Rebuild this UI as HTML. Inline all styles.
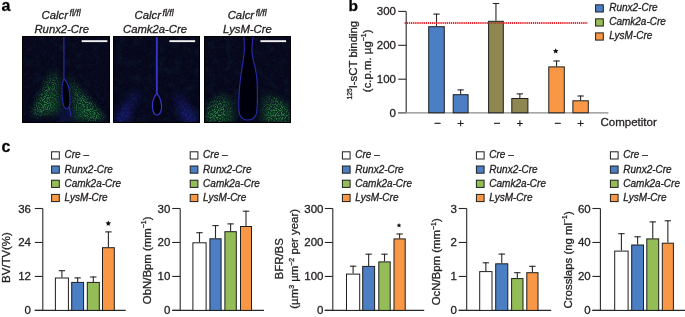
<!DOCTYPE html><html><head><meta charset="utf-8"><style>html,body{margin:0;padding:0;background:#fff;width:685px;height:317px;overflow:hidden}svg{display:block;will-change:transform;filter:blur(0.3px)}text{font-family:"Liberation Sans",sans-serif;stroke:#231f20;stroke-width:0.3px}</style></head><body>
<svg width="685" height="317" viewBox="0 0 685 317">
<defs>
<filter id="noise" x="0" y="0" width="100%" height="100%" color-interpolation-filters="sRGB">
<feTurbulence type="fractalNoise" baseFrequency="0.45" numOctaves="2" seed="3" result="t"/>
<feColorMatrix in="t" type="matrix" values="0 0 0 0 0.07  0 0 0 0 0.07  0 0 0 0 0.22  0 0 0 1.4 -0.6" result="n"/>
<feGaussianBlur in="n" stdDeviation="0.5" result="nb"/>
<feComposite in="nb" in2="SourceGraphic" operator="in"/>
</filter>
<filter id="gspeck" x="0" y="0" width="100%" height="100%" color-interpolation-filters="sRGB">
<feTurbulence type="fractalNoise" baseFrequency="0.85" numOctaves="2" seed="11" result="t"/>
<feColorMatrix in="t" type="matrix" values="0 0 0 0 0.20  0 0 0 0 0.58  0 0 0 0 0.30  0 0 0 3.0 -1.35" result="n"/>
<feGaussianBlur in="n" stdDeviation="0.35" result="nb"/>
<feComposite in="nb" in2="SourceGraphic" operator="in"/>
</filter>
<filter id="bspeck" x="0" y="0" width="100%" height="100%" color-interpolation-filters="sRGB">
<feTurbulence type="fractalNoise" baseFrequency="0.5" numOctaves="2" seed="5" result="t"/>
<feColorMatrix in="t" type="matrix" values="0 0 0 0 0.14  0 0 0 0 0.16  0 0 0 0 0.62  0 0 0 2.4 -0.95" result="n"/>
<feGaussianBlur in="n" stdDeviation="0.6" result="nb"/>
<feComposite in="nb" in2="SourceGraphic" operator="in"/>
</filter>
<filter id="bl3" x="-30%" y="-30%" width="160%" height="160%"><feGaussianBlur stdDeviation="3"/></filter>
<filter id="bl5" x="-30%" y="-30%" width="160%" height="160%"><feGaussianBlur stdDeviation="5"/></filter>
<filter id="bl06" x="-10%" y="-10%" width="120%" height="120%"><feGaussianBlur stdDeviation="0.45"/></filter>
<clipPath id="c1"><rect x="22" y="36" width="88" height="87"/></clipPath>
<clipPath id="c2"><rect x="113" y="36" width="87" height="87"/></clipPath>
<clipPath id="c3"><rect x="204" y="36" width="87" height="87"/></clipPath>
<linearGradient id="mg" x1="0" y1="0" x2="0" y2="1"><stop offset="0" stop-color="#555"/><stop offset="1" stop-color="#fff"/></linearGradient>
<mask id="m1" maskUnits="userSpaceOnUse" x="22" y="36" width="88" height="87"><g filter="url(#bl3)" fill="url(#mg)">
<path d="M54,66 L60,78 L60,100 L60,113 L32,115 L42,92 Z"/>
<path d="M68,71 L80,90 L96,108 L105,120 L73,120 L71,100 L70,86 Z"/>
</g></mask>
<mask id="m2" maskUnits="userSpaceOnUse" x="113" y="36" width="87" height="87"><g filter="url(#bl3)" fill="url(#mg)">
<path d="M135,89 L142,95 L133,108 L128,123 L113,123 L118,111 Z"/>
<path d="M174,91 L181,94 L193,110 L199,123 L183,123 L177,107 Z"/>
</g></mask>
<mask id="m1b" maskUnits="userSpaceOnUse" x="22" y="36" width="88" height="87"><g filter="url(#bl3)" fill="#fff">
<path d="M51,74 L56,82 L48,112 L33,114 Z"/>
<path d="M71,82 L84,95 L104,119 L88,120 Z"/>
</g></mask>
<mask id="m3b" maskUnits="userSpaceOnUse" x="204" y="36" width="87" height="87"><g filter="url(#bl3)" fill="#fff">
<path d="M207,121 L210,106 L220,99 L226,104 L222,121 Z"/>
<path d="M268,121 L270,100 L278,99 L289,112 L289,121 Z"/>
</g></mask>
<filter id="bgtex" x="0" y="0" width="100%" height="100%" color-interpolation-filters="sRGB">
<feTurbulence type="fractalNoise" baseFrequency="0.12" numOctaves="3" seed="21" result="t"/>
<feColorMatrix in="t" type="matrix" values="0 0 0 0 0.06  0 0 0 0 0.16  0 0 0 0 0.22  0 0 0 2.2 -1.05" result="n"/>
<feComposite in="n" in2="SourceGraphic" operator="in"/>
</filter>
<mask id="m3" maskUnits="userSpaceOnUse" x="204" y="36" width="87" height="87"><g filter="url(#bl3)" fill="url(#mg)">
<path d="M206,122 L207,106 L215,97 L224,92 L233,100 L234,122 Z"/>
<path d="M262,122 L262,100 L268,91 L279,97 L290,108 L290,122 Z"/>
</g></mask>
</defs>
<text x="1.4" y="11.2" font-size="16" text-anchor="start" font-weight="bold" fill="#000" >a</text>
<text x="41.6" y="19.2" font-size="11.3" font-style="italic" fill="#231f20">Calcr<tspan font-size="8.6" dx="1.6" dy="-3.6">fl/fl</tspan></text>
<text x="61.75" y="32.6" font-size="11.3" text-anchor="middle" font-weight="normal" font-style="italic" fill="#231f20" >Runx2-Cre</text>
<text x="134.6" y="19.2" font-size="11.3" font-style="italic" fill="#231f20">Calcr<tspan font-size="8.6" dx="1.6" dy="-3.6">fl/fl</tspan></text>
<text x="155" y="32.6" font-size="11.3" text-anchor="middle" font-weight="normal" font-style="italic" fill="#231f20" >Camk2a-Cre</text>
<text x="227.7" y="19.2" font-size="11.3" font-style="italic" fill="#231f20">Calcr<tspan font-size="8.6" dx="1.6" dy="-3.6">fl/fl</tspan></text>
<text x="247.45" y="32.6" font-size="11.3" text-anchor="middle" font-weight="normal" font-style="italic" fill="#231f20" >LysM-Cre</text>
<g clip-path="url(#c1)">
<rect x="22" y="36" width="88" height="87" fill="#060719"/>
<rect x="22" y="36" width="88" height="87" fill="#fff" filter="url(#noise)"/>
<rect x="22" y="36" width="88" height="87" fill="#fff" filter="url(#bgtex)" opacity="0.4"/>
<g mask="url(#m1)"><rect x="22" y="36" width="88" height="87" fill="#0d3022"/><rect x="22" y="36" width="88" height="87" fill="#fff" filter="url(#gspeck)" opacity="0.75"/></g>
<g mask="url(#m1b)"><rect x="22" y="36" width="88" height="87" fill="#fff" filter="url(#gspeck)"/></g>
<path d="M60,108 L72,108 L74,123 L58,123 Z" fill="#101650" opacity="0.6" filter="url(#bl3)"/>
<g filter="url(#bl06)" fill="none" stroke="#2a2aa8" stroke-width="1.1"><path d="M63.9,36 L63.9,79"/><path d="M63.9,79 C62.2,82 61.8,86 62,92 C62.2,98 62.6,104 64.3,107.5 C65.8,109.6 68.6,109.2 69.5,106 C70.3,102 70.1,95 68.8,88 C67.9,84 66,80.5 63.9,79 Z" fill="#03030c"/><path d="M69.2,107 L71,116"/></g>
<rect x="81.7" y="40.2" width="25.7" height="1.9" fill="#f2f2f2"/>
</g>
<rect x="22.5" y="36.5" width="87" height="86" fill="none" stroke="#000" stroke-width="1"/>
<g clip-path="url(#c2)">
<rect x="113" y="36" width="87" height="87" fill="#060719"/>
<rect x="113" y="36" width="87" height="87" fill="#fff" filter="url(#noise)"/>
<rect x="113" y="36" width="87" height="87" fill="#fff" filter="url(#bgtex)" opacity="0.4"/>
<g mask="url(#m2)"><rect x="113" y="36" width="87" height="87" fill="#101650"/><rect x="113" y="36" width="87" height="87" fill="#fff" filter="url(#bspeck)"/></g>
<g filter="url(#bl06)" fill="none" stroke="#3434cc" stroke-width="1.2"><path d="M156.8,36 L156.8,93.5" stroke-width="1.9"/><path d="M156.8,93.5 C153.5,97 152.4,102 152.4,107 C152.4,112 154.5,115 156.9,115 C159.3,115 161.6,112 161.6,107 C161.6,102 160,97 156.8,93.5" fill="#03030c"/></g>
<rect x="169.4" y="40.2" width="25.7" height="1.9" fill="#f2f2f2"/>
</g>
<rect x="113.5" y="36.5" width="86" height="86" fill="none" stroke="#000" stroke-width="1"/>
<g clip-path="url(#c3)">
<rect x="204" y="36" width="87" height="87" fill="#060719"/>
<rect x="204" y="36" width="87" height="87" fill="#fff" filter="url(#noise)"/>
<rect x="204" y="36" width="87" height="87" fill="#fff" filter="url(#bgtex)" opacity="0.4"/>
<g mask="url(#m3)"><rect x="204" y="36" width="87" height="87" fill="#0d3022"/><rect x="204" y="36" width="87" height="87" fill="#fff" filter="url(#gspeck)" opacity="0.75"/></g>
<g mask="url(#m3b)"><rect x="204" y="36" width="87" height="87" fill="#fff" filter="url(#gspeck)"/></g>
<g filter="url(#bl06)"><path d="M243.8,35 C244.2,42 244.6,46 244.2,52 C243.6,60 241.5,70 240.3,80 C239,92 238.5,104 239,111 C239.6,117.5 243,120 247.8,120 C252.5,120 256,117.5 256.8,111 C257.5,104 257.6,92 257,80 C256.5,70 252.5,60 252,52 C251.6,46 252.6,42 253.2,35" fill="#020208" stroke="#2a2aa8" stroke-width="1.1"/></g>
<rect x="260.4" y="40.2" width="25.7" height="1.9" fill="#f2f2f2"/>
</g>
<rect x="204.5" y="36.5" width="86" height="86" fill="none" stroke="#000" stroke-width="1"/>
<text x="348.6" y="10.9" font-size="15.5" text-anchor="start" font-weight="bold" fill="#000" >b</text>
<line x1="406.2" y1="11.4" x2="406.2" y2="112.8" stroke="#282828" stroke-width="1.1"/>
<line x1="398.2" y1="11.4" x2="406.2" y2="11.4" stroke="#282828" stroke-width="1.1"/>
<text x="396" y="15.4" font-size="11.5" text-anchor="end" font-weight="normal" fill="#231f20" >300</text>
<line x1="398.2" y1="45.3" x2="406.2" y2="45.3" stroke="#282828" stroke-width="1.1"/>
<text x="396" y="49.3" font-size="11.5" text-anchor="end" font-weight="normal" fill="#231f20" >200</text>
<line x1="398.2" y1="79.2" x2="406.2" y2="79.2" stroke="#282828" stroke-width="1.1"/>
<text x="396" y="83.2" font-size="11.5" text-anchor="end" font-weight="normal" fill="#231f20" >100</text>
<line x1="398.2" y1="112.8" x2="406.2" y2="112.8" stroke="#282828" stroke-width="1.1"/>
<text x="396" y="116.8" font-size="11.5" text-anchor="end" font-weight="normal" fill="#231f20" >0</text>
<line x1="398.2" y1="112.8" x2="608.4" y2="112.8" stroke="#8a8a8a" stroke-width="1.2"/>
<text transform="translate(357,60.1) rotate(-90)" font-size="11.4" text-anchor="middle" fill="#231f20"><tspan font-size="6.6" dy="-4.9">125</tspan><tspan dy="4.9">I-sCT binding</tspan></text>
<text transform="translate(370.8,60.8) rotate(-90)" font-size="11.4" text-anchor="middle" fill="#231f20">(c.p.m. µg<tspan font-size="7" dy="-4.5">−1</tspan><tspan dy="4.5">)</tspan></text>
<rect x="428.70" y="26.70" width="15.60" height="86.10" fill="#4c7ec3" stroke="#1e1e1e" stroke-width="1.0"/>
<line x1="436.50" y1="26.20" x2="436.50" y2="13.60" stroke="#282828" stroke-width="1.1"/>
<line x1="433.30" y1="14.10" x2="439.70" y2="14.10" stroke="#282828" stroke-width="1.1"/>
<rect x="453.20" y="94.70" width="14.90" height="18.10" fill="#4c7ec3" stroke="#1e1e1e" stroke-width="1.0"/>
<line x1="460.65" y1="94.20" x2="460.65" y2="89.40" stroke="#282828" stroke-width="1.1"/>
<line x1="457.45" y1="89.90" x2="463.85" y2="89.90" stroke="#282828" stroke-width="1.1"/>
<rect x="488.60" y="21.30" width="14.70" height="91.50" fill="#8f8751" stroke="#1e1e1e" stroke-width="1.0"/>
<line x1="495.95" y1="20.80" x2="495.95" y2="3.00" stroke="#282828" stroke-width="1.1"/>
<line x1="492.75" y1="3.50" x2="499.15" y2="3.50" stroke="#282828" stroke-width="1.1"/>
<rect x="511.80" y="98.50" width="16.10" height="14.30" fill="#8f8751" stroke="#1e1e1e" stroke-width="1.0"/>
<line x1="519.85" y1="98.00" x2="519.85" y2="93.40" stroke="#282828" stroke-width="1.1"/>
<line x1="516.65" y1="93.90" x2="523.05" y2="93.90" stroke="#282828" stroke-width="1.1"/>
<rect x="548.80" y="66.90" width="15.50" height="45.90" fill="#f89745" stroke="#1e1e1e" stroke-width="1.0"/>
<line x1="556.55" y1="66.40" x2="556.55" y2="60.50" stroke="#282828" stroke-width="1.1"/>
<line x1="553.35" y1="61.00" x2="559.75" y2="61.00" stroke="#282828" stroke-width="1.1"/>
<rect x="572.90" y="100.80" width="15.40" height="12.00" fill="#f89745" stroke="#1e1e1e" stroke-width="1.0"/>
<line x1="580.60" y1="100.30" x2="580.60" y2="95.50" stroke="#282828" stroke-width="1.1"/>
<line x1="577.40" y1="96.00" x2="583.80" y2="96.00" stroke="#282828" stroke-width="1.1"/>
<line x1="404.7" y1="22.9" x2="587.7" y2="22.9" stroke="#e8262f" stroke-width="2" stroke-dasharray="1.3 0.8"/>
<polygon points="555.70,48.30 556.52,50.07 558.46,50.30 557.02,51.63 557.40,53.55 555.70,52.59 554.00,53.55 554.38,51.63 552.94,50.30 554.88,50.07" fill="#111"/>
<text x="437.7" y="126.6" font-size="11.5" text-anchor="middle" font-weight="normal" fill="#231f20" >−</text>
<text x="460.65" y="126.6" font-size="11.5" text-anchor="middle" font-weight="normal" fill="#231f20" >+</text>
<text x="497.15000000000003" y="126.6" font-size="11.5" text-anchor="middle" font-weight="normal" fill="#231f20" >−</text>
<text x="519.85" y="126.6" font-size="11.5" text-anchor="middle" font-weight="normal" fill="#231f20" >+</text>
<text x="557.75" y="126.6" font-size="11.5" text-anchor="middle" font-weight="normal" fill="#231f20" >−</text>
<text x="580.5999999999999" y="126.6" font-size="11.5" text-anchor="middle" font-weight="normal" fill="#231f20" >+</text>
<text x="600.5" y="126" font-size="11.5" text-anchor="start" font-weight="normal" fill="#231f20" >Competitor</text>
<rect x="595.60" y="4.80" width="7.7" height="7.2" fill="#4c7ec3" stroke="#1e1e1e" stroke-width="1"/>
<text x="609.2" y="10.6" font-size="10" text-anchor="start" font-weight="normal" font-style="italic" fill="#231f20" >Runx2-Cre</text>
<rect x="595.60" y="18.85" width="7.7" height="7.2" fill="#95bd57" stroke="#1e1e1e" stroke-width="1"/>
<text x="609.2" y="25.0" font-size="10" text-anchor="start" font-weight="normal" font-style="italic" fill="#231f20" >Camk2a-Cre</text>
<rect x="595.60" y="32.90" width="7.7" height="7.2" fill="#f89745" stroke="#1e1e1e" stroke-width="1"/>
<text x="609.2" y="39.4" font-size="10" text-anchor="start" font-weight="normal" font-style="italic" fill="#231f20" >LysM-Cre</text>
<text x="1.5" y="151.7" font-size="16" text-anchor="start" font-weight="bold" fill="#000" >c</text>
<line x1="42.8" y1="208.5" x2="42.8" y2="310.4" stroke="#282828" stroke-width="1.1"/>
<line x1="34.8" y1="208.5" x2="42.8" y2="208.5" stroke="#282828" stroke-width="1.1"/>
<text x="31" y="212.5" font-size="11.5" text-anchor="end" font-weight="normal" fill="#231f20" >36</text>
<line x1="34.8" y1="242.46666666666667" x2="42.8" y2="242.46666666666667" stroke="#282828" stroke-width="1.1"/>
<text x="31" y="246.46666666666667" font-size="11.5" text-anchor="end" font-weight="normal" fill="#231f20" >24</text>
<line x1="34.8" y1="276.43333333333334" x2="42.8" y2="276.43333333333334" stroke="#282828" stroke-width="1.1"/>
<text x="31" y="280.43333333333334" font-size="11.5" text-anchor="end" font-weight="normal" fill="#231f20" >12</text>
<line x1="34.8" y1="310.4" x2="42.8" y2="310.4" stroke="#282828" stroke-width="1.1"/>
<text x="31" y="314.4" font-size="11.5" text-anchor="end" font-weight="normal" fill="#231f20" >0</text>
<line x1="34.8" y1="310.4" x2="125.7" y2="310.4" stroke="#282828" stroke-width="1.2"/>
<rect x="51.60" y="151.80" width="7.7" height="7.2" fill="#fff" stroke="#1e1e1e" stroke-width="1"/>
<text x="64.5" y="158.3" font-size="10" text-anchor="start" font-weight="normal" font-style="italic" fill="#231f20" >Cre –</text>
<rect x="51.60" y="166.00" width="7.7" height="7.2" fill="#4c7ec3" stroke="#1e1e1e" stroke-width="1"/>
<text x="64.5" y="172.65" font-size="10" text-anchor="start" font-weight="normal" font-style="italic" fill="#231f20" >Runx2-Cre</text>
<rect x="51.60" y="180.20" width="7.7" height="7.2" fill="#95bd57" stroke="#1e1e1e" stroke-width="1"/>
<text x="64.5" y="187.0" font-size="10" text-anchor="start" font-weight="normal" font-style="italic" fill="#231f20" >Camk2a-Cre</text>
<rect x="51.60" y="194.40" width="7.7" height="7.2" fill="#f89745" stroke="#1e1e1e" stroke-width="1"/>
<text x="64.5" y="201.35000000000002" font-size="10" text-anchor="start" font-weight="normal" font-style="italic" fill="#231f20" >LysM-Cre</text>
<rect x="55.40" y="278.00" width="13.00" height="32.40" fill="#fff" stroke="#1e1e1e" stroke-width="1.0"/>
<line x1="61.90" y1="277.50" x2="61.90" y2="270.20" stroke="#282828" stroke-width="1.1"/>
<line x1="58.70" y1="270.70" x2="65.10" y2="270.70" stroke="#282828" stroke-width="1.1"/>
<rect x="71.70" y="282.40" width="11.90" height="28.00" fill="#4c7ec3" stroke="#1e1e1e" stroke-width="1.0"/>
<line x1="77.65" y1="281.90" x2="77.65" y2="277.40" stroke="#282828" stroke-width="1.1"/>
<line x1="74.45" y1="277.90" x2="80.85" y2="277.90" stroke="#282828" stroke-width="1.1"/>
<rect x="87.30" y="282.40" width="12.00" height="28.00" fill="#95bd57" stroke="#1e1e1e" stroke-width="1.0"/>
<line x1="93.30" y1="281.90" x2="93.30" y2="276.50" stroke="#282828" stroke-width="1.1"/>
<line x1="90.10" y1="277.00" x2="96.50" y2="277.00" stroke="#282828" stroke-width="1.1"/>
<rect x="102.50" y="247.70" width="11.80" height="62.70" fill="#f89745" stroke="#1e1e1e" stroke-width="1.0"/>
<line x1="108.40" y1="247.20" x2="108.40" y2="231.40" stroke="#282828" stroke-width="1.1"/>
<line x1="105.20" y1="231.90" x2="111.60" y2="231.90" stroke="#282828" stroke-width="1.1"/>
<polygon points="108.30,220.60 109.12,222.37 111.06,222.60 109.62,223.93 110.00,225.85 108.30,224.89 106.60,225.85 106.98,223.93 105.54,222.60 107.48,222.37" fill="#111"/>
<line x1="180.2" y1="208.5" x2="180.2" y2="310.4" stroke="#282828" stroke-width="1.1"/>
<line x1="172.2" y1="208.5" x2="180.2" y2="208.5" stroke="#282828" stroke-width="1.1"/>
<text x="170.4" y="212.5" font-size="11.5" text-anchor="end" font-weight="normal" fill="#231f20" >30</text>
<line x1="172.2" y1="242.46666666666667" x2="180.2" y2="242.46666666666667" stroke="#282828" stroke-width="1.1"/>
<text x="170.4" y="246.46666666666667" font-size="11.5" text-anchor="end" font-weight="normal" fill="#231f20" >20</text>
<line x1="172.2" y1="276.43333333333334" x2="180.2" y2="276.43333333333334" stroke="#282828" stroke-width="1.1"/>
<text x="170.4" y="280.43333333333334" font-size="11.5" text-anchor="end" font-weight="normal" fill="#231f20" >10</text>
<line x1="172.2" y1="310.4" x2="180.2" y2="310.4" stroke="#282828" stroke-width="1.1"/>
<text x="170.4" y="314.4" font-size="11.5" text-anchor="end" font-weight="normal" fill="#231f20" >0</text>
<line x1="172.2" y1="310.4" x2="264" y2="310.4" stroke="#282828" stroke-width="1.2"/>
<rect x="190.20" y="151.80" width="7.7" height="7.2" fill="#fff" stroke="#1e1e1e" stroke-width="1"/>
<text x="203.1" y="158.3" font-size="10" text-anchor="start" font-weight="normal" font-style="italic" fill="#231f20" >Cre –</text>
<rect x="190.20" y="166.00" width="7.7" height="7.2" fill="#4c7ec3" stroke="#1e1e1e" stroke-width="1"/>
<text x="203.1" y="172.65" font-size="10" text-anchor="start" font-weight="normal" font-style="italic" fill="#231f20" >Runx2-Cre</text>
<rect x="190.20" y="180.20" width="7.7" height="7.2" fill="#95bd57" stroke="#1e1e1e" stroke-width="1"/>
<text x="203.1" y="187.0" font-size="10" text-anchor="start" font-weight="normal" font-style="italic" fill="#231f20" >Camk2a-Cre</text>
<rect x="190.20" y="194.40" width="7.7" height="7.2" fill="#f89745" stroke="#1e1e1e" stroke-width="1"/>
<text x="203.1" y="201.35000000000002" font-size="10" text-anchor="start" font-weight="normal" font-style="italic" fill="#231f20" >LysM-Cre</text>
<rect x="192.90" y="242.80" width="13.20" height="67.60" fill="#fff" stroke="#1e1e1e" stroke-width="1.0"/>
<line x1="199.50" y1="242.30" x2="199.50" y2="232.20" stroke="#282828" stroke-width="1.1"/>
<line x1="196.30" y1="232.70" x2="202.70" y2="232.70" stroke="#282828" stroke-width="1.1"/>
<rect x="209.90" y="238.80" width="11.20" height="71.60" fill="#4c7ec3" stroke="#1e1e1e" stroke-width="1.0"/>
<line x1="215.50" y1="238.30" x2="215.50" y2="225.10" stroke="#282828" stroke-width="1.1"/>
<line x1="212.30" y1="225.60" x2="218.70" y2="225.60" stroke="#282828" stroke-width="1.1"/>
<rect x="224.90" y="231.70" width="11.40" height="78.70" fill="#95bd57" stroke="#1e1e1e" stroke-width="1.0"/>
<line x1="230.60" y1="231.20" x2="230.60" y2="223.40" stroke="#282828" stroke-width="1.1"/>
<line x1="227.40" y1="223.90" x2="233.80" y2="223.90" stroke="#282828" stroke-width="1.1"/>
<rect x="240.50" y="226.50" width="11.00" height="83.90" fill="#f89745" stroke="#1e1e1e" stroke-width="1.0"/>
<line x1="246.00" y1="226.00" x2="246.00" y2="210.70" stroke="#282828" stroke-width="1.1"/>
<line x1="242.80" y1="211.20" x2="249.20" y2="211.20" stroke="#282828" stroke-width="1.1"/>
<line x1="332.8" y1="208.5" x2="332.8" y2="310.4" stroke="#282828" stroke-width="1.1"/>
<line x1="324.8" y1="208.5" x2="332.8" y2="208.5" stroke="#282828" stroke-width="1.1"/>
<text x="323.5" y="212.5" font-size="11.5" text-anchor="end" font-weight="normal" fill="#231f20" >300</text>
<line x1="324.8" y1="242.46666666666667" x2="332.8" y2="242.46666666666667" stroke="#282828" stroke-width="1.1"/>
<text x="323.5" y="246.46666666666667" font-size="11.5" text-anchor="end" font-weight="normal" fill="#231f20" >200</text>
<line x1="324.8" y1="276.43333333333334" x2="332.8" y2="276.43333333333334" stroke="#282828" stroke-width="1.1"/>
<text x="323.5" y="280.43333333333334" font-size="11.5" text-anchor="end" font-weight="normal" fill="#231f20" >100</text>
<line x1="324.8" y1="310.4" x2="332.8" y2="310.4" stroke="#282828" stroke-width="1.1"/>
<text x="323.5" y="314.4" font-size="11.5" text-anchor="end" font-weight="normal" fill="#231f20" >0</text>
<line x1="324.8" y1="310.4" x2="424.2" y2="310.4" stroke="#282828" stroke-width="1.2"/>
<rect x="342.40" y="151.80" width="7.7" height="7.2" fill="#fff" stroke="#1e1e1e" stroke-width="1"/>
<text x="355.3" y="158.3" font-size="10" text-anchor="start" font-weight="normal" font-style="italic" fill="#231f20" >Cre –</text>
<rect x="342.40" y="166.00" width="7.7" height="7.2" fill="#4c7ec3" stroke="#1e1e1e" stroke-width="1"/>
<text x="355.3" y="172.65" font-size="10" text-anchor="start" font-weight="normal" font-style="italic" fill="#231f20" >Runx2-Cre</text>
<rect x="342.40" y="180.20" width="7.7" height="7.2" fill="#95bd57" stroke="#1e1e1e" stroke-width="1"/>
<text x="355.3" y="187.0" font-size="10" text-anchor="start" font-weight="normal" font-style="italic" fill="#231f20" >Camk2a-Cre</text>
<rect x="342.40" y="194.40" width="7.7" height="7.2" fill="#f89745" stroke="#1e1e1e" stroke-width="1"/>
<text x="355.3" y="201.35000000000002" font-size="10" text-anchor="start" font-weight="normal" font-style="italic" fill="#231f20" >LysM-Cre</text>
<rect x="346.50" y="274.10" width="13.20" height="36.30" fill="#fff" stroke="#1e1e1e" stroke-width="1.0"/>
<line x1="353.10" y1="273.60" x2="353.10" y2="265.70" stroke="#282828" stroke-width="1.1"/>
<line x1="349.90" y1="266.20" x2="356.30" y2="266.20" stroke="#282828" stroke-width="1.1"/>
<rect x="362.70" y="266.40" width="11.90" height="44.00" fill="#4c7ec3" stroke="#1e1e1e" stroke-width="1.0"/>
<line x1="368.65" y1="265.90" x2="368.65" y2="253.70" stroke="#282828" stroke-width="1.1"/>
<line x1="365.45" y1="254.20" x2="371.85" y2="254.20" stroke="#282828" stroke-width="1.1"/>
<rect x="378.80" y="261.90" width="11.40" height="48.50" fill="#95bd57" stroke="#1e1e1e" stroke-width="1.0"/>
<line x1="384.50" y1="261.40" x2="384.50" y2="253.70" stroke="#282828" stroke-width="1.1"/>
<line x1="381.30" y1="254.20" x2="387.70" y2="254.20" stroke="#282828" stroke-width="1.1"/>
<rect x="394.00" y="238.90" width="11.20" height="71.50" fill="#f89745" stroke="#1e1e1e" stroke-width="1.0"/>
<line x1="399.60" y1="238.40" x2="399.60" y2="233.50" stroke="#282828" stroke-width="1.1"/>
<line x1="396.40" y1="234.00" x2="402.80" y2="234.00" stroke="#282828" stroke-width="1.1"/>
<polygon points="399.00,222.90 399.71,224.43 401.38,224.63 400.14,225.77 400.47,227.42 399.00,226.60 397.53,227.42 397.86,225.77 396.62,224.63 398.29,224.43" fill="#111"/>
<line x1="466.7" y1="208.5" x2="466.7" y2="310.4" stroke="#282828" stroke-width="1.1"/>
<line x1="458.7" y1="208.5" x2="466.7" y2="208.5" stroke="#282828" stroke-width="1.1"/>
<text x="456.8" y="212.5" font-size="11.5" text-anchor="end" font-weight="normal" fill="#231f20" >3</text>
<line x1="458.7" y1="242.46666666666667" x2="466.7" y2="242.46666666666667" stroke="#282828" stroke-width="1.1"/>
<text x="456.8" y="246.46666666666667" font-size="11.5" text-anchor="end" font-weight="normal" fill="#231f20" >2</text>
<line x1="458.7" y1="276.43333333333334" x2="466.7" y2="276.43333333333334" stroke="#282828" stroke-width="1.1"/>
<text x="456.8" y="280.43333333333334" font-size="11.5" text-anchor="end" font-weight="normal" fill="#231f20" >1</text>
<line x1="458.7" y1="310.4" x2="466.7" y2="310.4" stroke="#282828" stroke-width="1.1"/>
<text x="456.8" y="314.4" font-size="11.5" text-anchor="end" font-weight="normal" fill="#231f20" >0</text>
<line x1="458.7" y1="310.4" x2="551.2" y2="310.4" stroke="#282828" stroke-width="1.2"/>
<rect x="476.40" y="151.80" width="7.7" height="7.2" fill="#fff" stroke="#1e1e1e" stroke-width="1"/>
<text x="489.3" y="158.3" font-size="10" text-anchor="start" font-weight="normal" font-style="italic" fill="#231f20" >Cre –</text>
<rect x="476.40" y="166.00" width="7.7" height="7.2" fill="#4c7ec3" stroke="#1e1e1e" stroke-width="1"/>
<text x="489.3" y="172.65" font-size="10" text-anchor="start" font-weight="normal" font-style="italic" fill="#231f20" >Runx2-Cre</text>
<rect x="476.40" y="180.20" width="7.7" height="7.2" fill="#95bd57" stroke="#1e1e1e" stroke-width="1"/>
<text x="489.3" y="187.0" font-size="10" text-anchor="start" font-weight="normal" font-style="italic" fill="#231f20" >Camk2a-Cre</text>
<rect x="476.40" y="194.40" width="7.7" height="7.2" fill="#f89745" stroke="#1e1e1e" stroke-width="1"/>
<text x="489.3" y="201.35000000000002" font-size="10" text-anchor="start" font-weight="normal" font-style="italic" fill="#231f20" >LysM-Cre</text>
<rect x="479.70" y="271.60" width="12.30" height="38.80" fill="#fff" stroke="#1e1e1e" stroke-width="1.0"/>
<line x1="485.85" y1="271.10" x2="485.85" y2="262.30" stroke="#282828" stroke-width="1.1"/>
<line x1="482.65" y1="262.80" x2="489.05" y2="262.80" stroke="#282828" stroke-width="1.1"/>
<rect x="495.70" y="263.80" width="12.10" height="46.60" fill="#4c7ec3" stroke="#1e1e1e" stroke-width="1.0"/>
<line x1="501.75" y1="263.30" x2="501.75" y2="253.60" stroke="#282828" stroke-width="1.1"/>
<line x1="498.55" y1="254.10" x2="504.95" y2="254.10" stroke="#282828" stroke-width="1.1"/>
<rect x="511.60" y="278.60" width="11.40" height="31.80" fill="#95bd57" stroke="#1e1e1e" stroke-width="1.0"/>
<line x1="517.30" y1="278.10" x2="517.30" y2="272.20" stroke="#282828" stroke-width="1.1"/>
<line x1="514.10" y1="272.70" x2="520.50" y2="272.70" stroke="#282828" stroke-width="1.1"/>
<rect x="526.80" y="272.70" width="11.20" height="37.70" fill="#f89745" stroke="#1e1e1e" stroke-width="1.0"/>
<line x1="532.40" y1="272.20" x2="532.40" y2="265.80" stroke="#282828" stroke-width="1.1"/>
<line x1="529.20" y1="266.30" x2="535.60" y2="266.30" stroke="#282828" stroke-width="1.1"/>
<line x1="600.4" y1="208.5" x2="600.4" y2="310.4" stroke="#282828" stroke-width="1.1"/>
<line x1="592.4" y1="208.5" x2="600.4" y2="208.5" stroke="#282828" stroke-width="1.1"/>
<text x="590.7" y="212.5" font-size="11.5" text-anchor="end" font-weight="normal" fill="#231f20" >60</text>
<line x1="592.4" y1="242.46666666666667" x2="600.4" y2="242.46666666666667" stroke="#282828" stroke-width="1.1"/>
<text x="590.7" y="246.46666666666667" font-size="11.5" text-anchor="end" font-weight="normal" fill="#231f20" >40</text>
<line x1="592.4" y1="276.43333333333334" x2="600.4" y2="276.43333333333334" stroke="#282828" stroke-width="1.1"/>
<text x="590.7" y="280.43333333333334" font-size="11.5" text-anchor="end" font-weight="normal" fill="#231f20" >20</text>
<line x1="592.4" y1="310.4" x2="600.4" y2="310.4" stroke="#282828" stroke-width="1.1"/>
<text x="590.7" y="314.4" font-size="11.5" text-anchor="end" font-weight="normal" fill="#231f20" >0</text>
<line x1="592.4" y1="310.4" x2="685" y2="310.4" stroke="#282828" stroke-width="1.2"/>
<rect x="610.40" y="151.80" width="7.7" height="7.2" fill="#fff" stroke="#1e1e1e" stroke-width="1"/>
<text x="623.3000000000001" y="158.3" font-size="10" text-anchor="start" font-weight="normal" font-style="italic" fill="#231f20" >Cre –</text>
<rect x="610.40" y="166.00" width="7.7" height="7.2" fill="#4c7ec3" stroke="#1e1e1e" stroke-width="1"/>
<text x="623.3000000000001" y="172.65" font-size="10" text-anchor="start" font-weight="normal" font-style="italic" fill="#231f20" >Runx2-Cre</text>
<rect x="610.40" y="180.20" width="7.7" height="7.2" fill="#95bd57" stroke="#1e1e1e" stroke-width="1"/>
<text x="623.3000000000001" y="187.0" font-size="10" text-anchor="start" font-weight="normal" font-style="italic" fill="#231f20" >Camk2a-Cre</text>
<rect x="610.40" y="194.40" width="7.7" height="7.2" fill="#f89745" stroke="#1e1e1e" stroke-width="1"/>
<text x="623.3000000000001" y="201.35000000000002" font-size="10" text-anchor="start" font-weight="normal" font-style="italic" fill="#231f20" >LysM-Cre</text>
<rect x="614.70" y="251.10" width="13.40" height="59.30" fill="#fff" stroke="#1e1e1e" stroke-width="1.0"/>
<line x1="621.40" y1="250.60" x2="621.40" y2="233.20" stroke="#282828" stroke-width="1.1"/>
<line x1="618.20" y1="233.70" x2="624.60" y2="233.70" stroke="#282828" stroke-width="1.1"/>
<rect x="631.70" y="245.00" width="11.80" height="65.40" fill="#4c7ec3" stroke="#1e1e1e" stroke-width="1.0"/>
<line x1="637.60" y1="244.50" x2="637.60" y2="236.30" stroke="#282828" stroke-width="1.1"/>
<line x1="634.40" y1="236.80" x2="640.80" y2="236.80" stroke="#282828" stroke-width="1.1"/>
<rect x="646.80" y="238.90" width="11.90" height="71.50" fill="#95bd57" stroke="#1e1e1e" stroke-width="1.0"/>
<line x1="652.75" y1="238.40" x2="652.75" y2="221.40" stroke="#282828" stroke-width="1.1"/>
<line x1="649.55" y1="221.90" x2="655.95" y2="221.90" stroke="#282828" stroke-width="1.1"/>
<rect x="662.30" y="243.20" width="11.10" height="67.20" fill="#f89745" stroke="#1e1e1e" stroke-width="1.0"/>
<line x1="667.85" y1="242.70" x2="667.85" y2="220.30" stroke="#282828" stroke-width="1.1"/>
<line x1="664.65" y1="220.80" x2="671.05" y2="220.80" stroke="#282828" stroke-width="1.1"/>
<text transform="translate(9.6,257.6) rotate(-90)" font-size="11.4" text-anchor="middle" fill="#231f20">BV/TV(%)</text>
<text transform="translate(150.9,260.3) rotate(-90)" font-size="11.4" text-anchor="middle" fill="#231f20">ObN/Bpm (mm<tspan font-size="7" dy="-4.5">−1</tspan><tspan dy="4.5">)</tspan></text>
<text transform="translate(283.4,258.8) rotate(-90)" font-size="11.4" text-anchor="middle" fill="#231f20">BFR/BS</text>
<text transform="translate(298,258.85) rotate(-90)" font-size="11.4" text-anchor="middle" fill="#231f20">(µm<tspan font-size="7" dy="-4.5">3</tspan><tspan dy="4.5"> µm</tspan><tspan font-size="7" dy="-4.5">−2</tspan><tspan dy="4.5"> per year)</tspan></text>
<text transform="translate(440.3,261.8) rotate(-90)" font-size="11.4" text-anchor="middle" fill="#231f20">OcN/Bpm (mm<tspan font-size="7" dy="-4.5">−1</tspan><tspan dy="4.5">)</tspan></text>
<text transform="translate(571.5,259.8) rotate(-90)" font-size="11.4" text-anchor="middle" fill="#231f20">Crosslaps (ng ml<tspan font-size="7" dy="-4.5">−1</tspan><tspan dy="4.5">)</tspan></text>
</svg></body></html>
